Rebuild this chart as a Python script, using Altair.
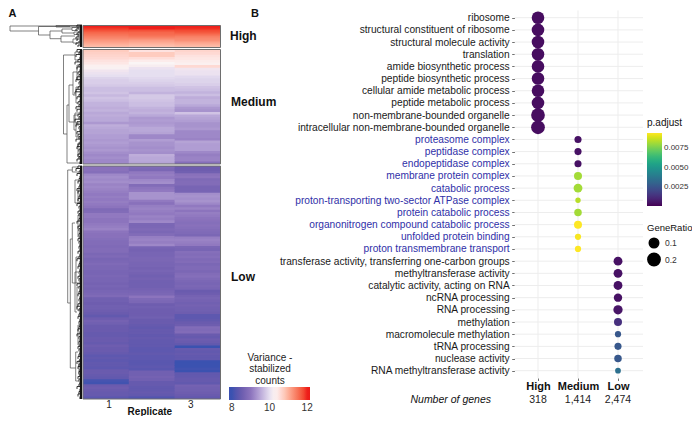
import altair as alt
import pandas as pd

W, H = 684, 408
FONT = "Liberation Sans"

def px(v):
    return v - 8

def py(v):
    return v - 8

# ---------- heatmap values, one list per replicate and expression group ----------
high_1 = [12.0, 11.9, 11.75, 11.6, 11.5, 11.4, 11.3, 11.2, 11.1, 11.0, 10.9]
high_2 = [12.05, 12.0, 11.75, 11.6, 11.55, 11.45, 11.3, 11.15, 11.05, 10.95, 10.85]
high_3 = [12.0, 11.95, 11.8, 11.7, 11.55, 11.4, 11.3, 11.25, 11.1, 11.0, 10.9]

medium_1 = [10.75, 10.7, 10.65, 10.6, 10.5, 10.45, 10.35, 10.25, 10.1, 10.05, 10.0, 9.9, 9.85, 9.85, 9.8,
            9.7, 9.7, 9.75, 9.65, 9.75, 9.7, 9.6, 9.6, 9.55, 9.6, 9.5, 9.55, 9.5, 9.5, 9.35, 9.55, 9.5,
            9.45, 9.45, 9.4, 9.4, 9.35, 9.4, 9.35, 9.3, 9.35, 9.25, 9.2, 9.25, 9.2, 9.2]
medium_2 = [10.5, 10.75, 10.75, 10.55, 10.4, 10.3, 10.2, 10.05, 10.0, 10.0, 10.0, 9.95, 9.9, 9.85, 9.8,
            9.7, 9.7, 9.6, 9.8, 9.8, 9.75, 9.7, 9.7, 9.6, 9.55, 9.6, 9.5, 9.35, 9.4, 9.35, 9.4, 9.5,
            9.5, 9.45, 9.2, 9.2, 9.4, 9.3, 9.3, 9.25, 9.3, 9.25, 9.55, 9.5, 9.5, 9.45]
medium_3 = [10.65, 10.6, 10.5, 10.45, 10.4, 10.35, 10.6, 10.1, 10.05, 10.05, 9.95, 9.9, 9.9, 9.85,
            9.75, 9.7, 9.6, 9.7, 9.55, 9.6, 9.6, 9.5, 9.35, 9.3, 9.75, 9.5, 9.45, 9.4, 9.3, 9.3, 9.35,
            9.2, 9.2, 9.2, 9.15, 9.45, 9.4, 9.4, 9.4, 9.2, 9.1, 9.15, 9.15, 8.9]

low_1 = [8.95, 8.95, 8.9, 9.2, 9.25, 9.2, 9.25, 9.15, 9.2, 9.15, 9.1, 9.05, 9.1, 9.05, 9.1, 9.05, 9.0,
         8.8, 8.85, 9.05, 9.05, 9.0, 9.0, 9.05, 9.1, 9.15, 9.0, 8.95, 8.95, 8.9, 8.85, 8.85, 8.8, 8.85,
         8.85, 8.75, 8.8, 8.7, 8.75, 8.8, 8.75, 8.75, 8.7, 8.7, 8.75, 8.7, 8.7, 8.65, 8.7,
         8.65, 8.7, 8.75, 8.8, 8.6, 8.6, 8.55, 8.6, 8.6, 8.55, 8.5, 8.4, 8.55, 8.65, 8.6, 8.5, 8.5,
         8.5, 8.45, 8.45, 8.5, 8.5, 8.45, 8.55, 8.5, 8.5, 8.45, 8.35, 8.4, 8.35, 8.4, 8.4, 8.35, 8.5,
         8.5, 8.45, 8.4, 8.1, 8.05, 8.5, 8.55, 8.5, 8.45, 8.45, 8.3]
low_2 = [8.8, 8.75, 9.05, 9.1, 9.05, 9.2, 9.25, 8.85, 9.0, 9.05, 9.3, 9.3, 9.3, 9.05, 8.95, 9.1, 9.15,
         9.1, 9.05, 9.15, 9.1, 9.2, 8.75, 8.75, 8.8, 8.75, 8.85, 9.1, 9.15, 9.1, 9.2, 8.7, 8.65, 8.7,
         8.7, 8.75, 8.75, 8.7, 8.7, 8.65, 8.7, 8.65, 8.6, 8.65, 8.6,
         8.6, 8.6, 8.65, 8.7, 8.75, 9.0, 8.8, 8.75, 8.55, 8.6, 8.55, 8.55, 8.55, 8.6, 8.5, 8.5, 8.45,
         8.4, 8.45, 8.45, 8.4, 8.45, 8.4, 8.4, 8.4, 8.35, 8.35, 8.4, 8.35, 8.35, 8.3, 8.3, 8.35, 8.3,
         8.6, 8.6, 8.65, 8.6, 8.45, 8.45, 8.4, 8.4, 8.45, 8.4, 8.2]
low_3 = [8.55, 8.55, 8.6, 8.95, 9.0, 8.8, 8.85, 8.85, 8.7, 8.7, 8.7, 9.25, 9.3, 9.25, 9.3, 9.2, 9.05,
         9.15, 9.0, 9.1, 9.05, 9.0, 8.95, 8.9, 8.95, 8.9, 8.85, 8.8, 8.75, 9.1, 9.15, 9.1, 9.05, 8.75,
         8.7, 8.9, 8.85, 8.9, 8.8, 8.85, 8.75, 8.8, 8.8, 8.75, 8.85, 8.9, 8.8, 8.75, 8.7,
         8.75, 8.7, 8.5, 8.55, 8.65, 8.7, 8.65, 8.6, 8.65, 8.6, 8.6, 8.55, 8.35, 8.35, 8.4, 8.5, 8.55,
         8.85, 8.8, 8.85, 8.5, 8.45, 8.55, 8.5, 8.4, 8.0, 8.45, 8.4, 8.45, 8.4, 8.4, 8.0, 8.0, 8.0,
         8.05, 8.0, 8.4, 8.4, 8.45, 8.45, 8.4, 8.65, 8.6, 8.6, 8.55, 8.5, 8.4]

replicate_ticks = [1, 2, 3]
heat_stops = [7.85, 8.0, 8.5, 9.0, 9.5, 10.0, 10.3, 10.8, 11.3, 12.0, 12.15]
heat_colors = ["#3A4FB2", "#3B52B0", "#6A5BAE", "#8C74BD", "#B9A8D8", "#E6DFF0", "#FAF5F5",
               "#FDC8B8", "#F98A70", "#EE1F1B", "#EC1A16"]

# ---------- dendrogram (height, leaf position) ----------
# node height, top leaf pos, bottom leaf pos, height the top child ends, height the bottom child ends
brackets = [
    (72, 1, 6, 0, 43.5), (43.5, 1.5, 10, 12, 32), (32, 6, 13.7, 20, 21), (20, 4, 8, 10, 8),
    (21, 11, 17, 7, 9), (10, 2.5, 5.5, 4, 4), (9, 14, 18, 4, 4), (8, 7, 9.5, 3, 3), (26, 0.5, 2, 0, 0),
    (18.5, 30, 109, 7, 15), (15, 80, 138, 13, 2), (13, 60, 97, 9, 8), (7, 27, 35, 2, 4),
    (9, 47, 70, 5, 6), (8, 90, 105, 4, 6), (6, 100, 112, 3, 3), (5, 40, 55, 3, 2), (6, 62, 78, 3, 4),
    (4, 118, 132, 2, 2), (7, 88, 98, 3, 3),
    (14.3, 145, 278, 9.7, 11.7), (9.7, 142, 147, 4, 4), (11.7, 214, 343, 9.7, 6.3),
    (9.7, 198, 258, 7, 6), (7, 155, 178, 4, 3), (6.3, 327, 356, 4, 3), (6, 232, 258, 3, 3),
    (7, 247, 287, 4, 5), (5, 262, 285, 3, 2), (4, 165, 178, 2, 2), (4, 190, 212, 2, 2),
    (4, 300, 320, 2, 2), (3, 335, 350, 2, 2),
]
tips_high = [5, 4, 6, 3, 5, 4, 6, 5, 3, 6, 4]
tips_medium = [5, 3, 6, 2, 4, 7, 3, 5, 2, 4, 3, 5, 6, 3, 2, 4, 6, 7, 3, 5, 2, 4, 3, 6, 5, 2, 4, 3, 7, 5, 6,
               3, 2, 5, 4, 3, 6, 2, 4, 5, 3, 2, 4, 3, 5, 2]
tips_low = [4, 6, 3, 5, 2, 3, 4, 2, 3, 5, 4, 2, 3, 4, 2, 5, 3, 2, 4, 3, 2, 3, 5, 2, 4, 3, 2, 3, 2, 4, 3, 2,
            3, 2, 4, 2, 3, 5, 2, 3, 4, 2, 3, 2, 4, 3, 2, 5, 3, 2, 3, 4, 2, 3, 2, 4, 5, 3, 2, 3, 4, 2, 3, 2,
            3, 4, 2, 5, 3, 2, 3, 2, 4, 3, 2, 3, 4, 2, 5, 3, 4, 2, 3, 2, 4, 3, 2, 3, 5, 2, 3, 4, 2]

# ---------- dot plot ----------
terms = [
    "ribosome", "structural constituent of ribosome", "structural molecule activity", "translation",
    "amide biosynthetic process", "peptide biosynthetic process", "cellular amide metabolic process",
    "peptide metabolic process", "non-membrane-bounded organelle",
    "intracellular non-membrane-bounded organelle",
    "proteasome complex", "peptidase complex", "endopeptidase complex", "membrane protein complex",
    "catabolic process", "proton-transporting two-sector ATPase complex", "protein catabolic process",
    "organonitrogen compound catabolic process", "unfolded protein binding",
    "proton transmembrane transport",
    "transferase activity, transferring one-carbon groups", "methyltransferase activity",
    "catalytic activity, acting on RNA", "ncRNA processing", "RNA processing", "methylation",
    "macromolecule methylation", "tRNA processing", "nuclease activity", "RNA methyltransferase activity",
]
tiers = ["High"] * 10 + ["Medium"] * 10 + ["Low"] * 10
gene_ratio = [0.21, 0.21, 0.21, 0.21, 0.21, 0.21, 0.21, 0.21, 0.26, 0.26,
              0.036, 0.036, 0.036, 0.058, 0.081, 0.002, 0.046, 0.058, 0.017, 0.017,
              0.081, 0.081, 0.081, 0.069, 0.094, 0.058, 0.017, 0.036, 0.046, 0.008]
p_adjust = [0.0003, 0.0003, 0.0003, 0.0003, 0.0003, 0.0003, 0.0003, 0.0003, 0.0003, 0.0003,
            0.0004, 0.0004, 0.0004, 0.0082, 0.0082, 0.0085, 0.0082, 0.0095, 0.0094, 0.0095,
            0.0004, 0.0004, 0.0004, 0.0004, 0.0005, 0.0013, 0.0026, 0.0026, 0.0026, 0.0035]
blue_terms = terms[10:20]
tier_names = ["High", "Medium", "Low"]
gene_counts = ["318", "1,414", "2,474"]

TIER_X = alt.Scale(domain=tier_names, type="point", range=[px(514), px(642)], padding=0.6)
TERM_Y = alt.Scale(domain=terms, type="point", range=[py(10.4), py(378)], padding=0.6)

layers = []

# ---------- dendrogram layers ----------
seg = {"h1": [], "p1": [], "h2": [], "p2": []}

def add(h1, p1, h2, p2):
    seg["h1"].append(h1)
    seg["p1"].append(p1)
    seg["h2"].append(h2)
    seg["p2"].append(p2)

for node, top, bot, h_top, h_bot in brackets:
    add(node, top, node, bot)
    add(node, top, h_top, top)
    add(node, bot, h_bot, bot)

DEND_X = alt.Scale(domain=[0, 72], range=[px(82), px(10)])
DEND_Y = alt.Scale(domain=[0, 374], range=[py(25), py(399)])

tips = {"h1": [], "p1": [], "h2": [], "p2": []}
for values, start, end in [(tips_high, 0, 22), (tips_medium, 24.5, 139), (tips_low, 141, 374)]:
    step = (end - start) / len(values)
    for i, d in enumerate(values):
        p = start + i * step
        tips["h1"].append(0)
        tips["p1"].append(p)
        tips["h2"].append(d)
        tips["p2"].append(p)
        tips["h1"].append(d)
        tips["p1"].append(p)
        tips["h2"].append(d)
        tips["p2"].append(p + step)


def rules(table, color, width):
    return alt.Chart(pd.DataFrame(table)).mark_rule(color=color, strokeWidth=width).encode(
        x=alt.X("h1:Q", scale=DEND_X, axis=None),
        x2="h2:Q",
        y=alt.Y("p1:Q", scale=DEND_Y, axis=None),
        y2="p2:Q",
    )


layers.append(rules(seg, "#4a4a4a", 0.7))
layers.append(rules(tips, "#111111", 0.85))
layers.append(rules({"h1": [1, 1, 1], "p1": [0, 24.5, 141], "h2": [1, 1, 1], "p2": [22, 139, 374]}, "#111111", 2.2))

# ---------- heatmap layers ----------
HEAT_X = alt.Scale(domain=[0.5, 3.5], range=[px(83), px(220.5)])
clusters = [
    ("High", [high_1, high_2, high_3], 25.5, 47.5),
    ("Medium", [medium_1, medium_2, medium_3], 49.5, 164),
    ("Low", [low_1, low_2, low_3], 166, 399),
]
for name, reps, top, bottom in clusters:
    rows = []
    for rep, values in zip(replicate_ticks, reps):
        n = len(values)
        for i, v in enumerate(values):
            rows.append({"lo": rep - 0.5, "hi": rep + 0.5 + (0.01 if rep < 3 else 0), "t": i / n,
                         "b": min(1, (i + 1.4) / n), "value": v})
    y_scale = alt.Scale(domain=[0, 1], range=[py(top), py(bottom)])
    legend = None
    if name == "Low":
        legend = alt.Legend(orient="none", legendX=px(229), legendY=py(387), direction="horizontal",
                            gradientLength=81, gradientThickness=13, title=None, values=[8, 10, 12],
                            labelFontSize=10, labelFont=FONT, labelColor="#333333",
                            gradientStrokeWidth=0, labelOffset=3)
    layers.append(
        alt.Chart(pd.DataFrame(rows)).mark_rect(strokeWidth=0).encode(
            x=alt.X("lo:Q", scale=HEAT_X, axis=None),
            x2="hi:Q",
            y=alt.Y("t:Q", scale=y_scale, axis=None),
            y2="b:Q",
            color=alt.Color("value:Q", scale=alt.Scale(domain=heat_stops, range=heat_colors), legend=legend),
        )
    )
    layers.append(
        alt.Chart(pd.DataFrame({"lo": [0.5], "hi": [3.5], "t": [0], "b": [1]}))
        .mark_rect(fillOpacity=0, stroke="#6e6e6e", strokeWidth=1)
        .encode(
            x=alt.X("lo:Q", scale=HEAT_X, axis=None),
            x2="hi:Q",
            y=alt.Y("t:Q", scale=y_scale, axis=None),
            y2="b:Q",
        )
    )

# replicate axis
layers.append(
    alt.Chart(pd.DataFrame({"rep": replicate_ticks})).mark_point(opacity=0).encode(
        x=alt.X("rep:Q",
                scale=alt.Scale(domain=[1, 3], range=[px(105.7), px(193)]),
                axis=alt.Axis(orient="bottom", values=replicate_ticks, title="Replicate", format="d",
                              grid=False, domain=False, ticks=False, labelFontSize=10, labelFont=FONT,
                              labelColor="#222222", labelPadding=0, titleFont=FONT, titleFontSize=10,
                              titleFontWeight="bold", titleColor="#111111", titlePadding=-3,
                              offset=-(H - py(399)))),
        y=alt.value(0),
    )
)

# ---------- dot plot layers ----------
dots = pd.DataFrame({"term": terms, "tier": tiers, "ratio": gene_ratio, "p": p_adjust})
layers.append(
    alt.Chart(pd.DataFrame({"term": terms})).mark_rule(color="#EDEDED", strokeWidth=1).encode(
        y=alt.Y("term:N", scale=TERM_Y, axis=None, sort=terms),
        x=alt.value(px(514.5)),
        x2=alt.value(px(643)),
    )
)
layers.append(
    alt.Chart(pd.DataFrame({"tier": tier_names})).mark_rule(color="#EDEDED", strokeWidth=1).encode(
        x=alt.X("tier:N", scale=TIER_X, axis=None, sort=tier_names),
        y=alt.value(py(10.4)),
        y2=alt.value(py(378)),
    )
)
blue_list = ",".join("'" + t + "'" for t in blue_terms)
layers.append(
    alt.Chart(dots).mark_circle(opacity=1).encode(
        x=alt.X("tier:N", scale=TIER_X, sort=tier_names,
                axis=alt.Axis(orient="bottom", title=None, labelAngle=0, labelFont=FONT, labelFontSize=11,
                              labelFontWeight="bold", labelColor="#111111", labelPadding=0, domain=False,
                              tickSize=2.5, tickColor="#333333", tickWidth=0.7, grid=False,
                              offset=-(H - py(378)))),
        y=alt.Y("term:N", scale=TERM_Y, sort=terms,
                axis=alt.Axis(orient="left", title=None, labelFont=FONT, labelFontSize=10.2, labelLimit=320,
                              labelPadding=2.5, domain=False, tickSize=2.8, tickColor="#333333", tickWidth=0.7,
                              grid=False, offset=-px(514.5),
                              labelColor={"condition": {"test": "indexof([" + blue_list + "], datum.value) >= 0",
                                                        "value": "#3030A8"},
                                          "value": "#1a1a1a"})),
        color=alt.Color("p:Q", scale=alt.Scale(scheme="viridis", domain=[0, 0.0095]),
                        legend=alt.Legend(orient="none", legendX=px(647), legendY=py(118), title="p.adjust",
                                          titleFont=FONT, titleFontSize=10, titleFontWeight="normal",
                                          titleColor="#111111", gradientLength=73, gradientThickness=15,
                                          values=[0.0025, 0.005, 0.0075], format=".4f", labelFont=FONT,
                                          labelFontSize=8, labelColor="#333333", gradientStrokeWidth=0)),
        size=alt.Size("ratio:Q", scale=alt.Scale(domain=[0, 0.3], range=[28, 214]),
                      legend=alt.Legend(orient="none", legendX=px(647), legendY=py(223), title="GeneRatio",
                                        titleFont=FONT, titleFontSize=9.5, titleFontWeight="normal",
                                        titleColor="#111111", values=[0.1, 0.2], format=".1f", labelFont=FONT,
                                        labelFontSize=8.5, labelColor="#333333", symbolFillColor="#000000",
                                        symbolStrokeColor="#000000", symbolType="circle", rowPadding=-2)),
    )
)
layers.append(
    alt.Chart(pd.DataFrame({"tier": tier_names, "n": gene_counts})).mark_text(
        font=FONT, fontSize=10.5, color="#222222", baseline="middle"
    ).encode(
        x=alt.X("tier:N", scale=TIER_X, axis=None, sort=tier_names),
        y=alt.value(py(400)),
        text="n:N",
    )
)


# ---------- free text ----------
def note(text, x, y, size, weight="normal", style="normal", align="left", color="#111111"):
    return alt.Chart(pd.DataFrame({"t": [text]})).mark_text(
        font=FONT, fontSize=size, fontWeight=weight, fontStyle=style, align=align, baseline="middle",
        color=color, lineBreak="\n", lineHeight=11.3,
    ).encode(x=alt.value(px(x)), y=alt.value(py(y)), text="t:N")


layers += [
    note("A", 8.5, 14, 11, "bold"),
    note("B", 251, 14, 11, "bold"),
    note("High", 230, 36, 12, "bold"),
    note("Medium", 231, 102, 12, "bold"),
    note("Low", 231, 277, 12, "bold"),
    note("Number of genes", 491, 400, 10.5, style="italic", align="right"),
    note("Variance -\nstabilized\ncounts", 270, 358, 10, align="center", color="#222222"),
]

chart = (
    alt.layer(*layers)
    .resolve_scale(x="independent", y="independent", color="independent", size="independent")
    .properties(width=W, height=H, padding=0, autosize=alt.AutoSizeParams(type="none"))
    .configure_view(stroke=None)
)
chart.save("out.html", embed_options={"renderer": "svg", "actions": False})
